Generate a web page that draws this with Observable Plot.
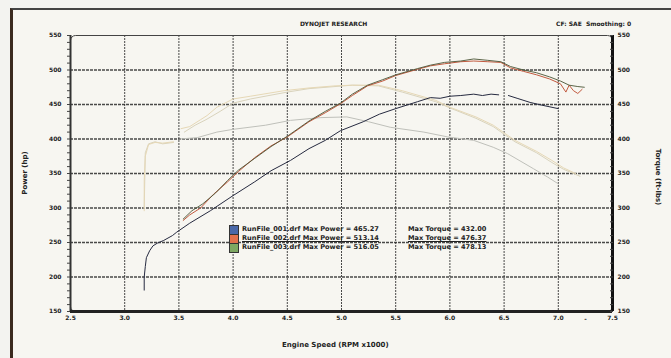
<!DOCTYPE html>
<html><head><meta charset="utf-8">
<script src="https://cdn.jsdelivr.net/npm/d3@7"></script>
<script src="https://cdn.jsdelivr.net/npm/@observablehq/plot@0.6"></script>
<style>
body{margin:0;background:#f3f3f0;}
#wrap{position:relative;width:671px;height:358px;overflow:hidden;}
#paper{position:absolute;left:10px;top:8px;right:-5px;bottom:-5px;background:#f7f6f1;border-left:3px solid #3b2a1f;border-top:2px solid #444;}
#chart{position:absolute;left:0;top:0;}
.t{position:absolute;font-family:"DejaVu Sans";font-weight:bold;color:#222;white-space:nowrap;line-height:1;}
.sw{position:absolute;width:8px;height:8px;border:1px solid #333;}
</style></head>
<body>
<div id="wrap">
  <div id="paper"></div>
  <div id="chart"></div>
  <div class="t" style="left:300px;top:21px;font-size:6px;">DYNOJET RESEARCH</div>
  <div class="t" style="left:556px;top:21px;font-size:6px;">CF: SAE&nbsp; Smoothing: 0</div>
  <div class="t" style="left:282px;top:342px;font-size:7px;">Engine Speed (RPM x1000)</div>
  <div class="t" style="left:25px;top:173px;font-size:7px;transform:translate(-50%,-50%) rotate(-90deg);">Power (hp)</div>
  <div class="t" style="left:657px;top:177px;font-size:7px;transform:translate(-50%,-50%) rotate(90deg);">Torque (ft-lbs)</div>
  <div id="legend"></div>
</div>
<script>
const xTicks = [2.5,3.0,3.5,4.0,4.5,5.0,5.5,6.0,6.5,7.0,7.5];
const yTicks = [150,200,250,300,350,400,450,500,550];
const yMinor = d3.range(150,551,10);

const runNames = ["RunFile_001.drf","RunFile_002.drf","RunFile_003.drf"];
const maxPower = ["465.27","513.14","516.05"];
const maxTorque = ["432.00","476.37","478.13"];
const swatch = ["#4a68a8","#e2714c","#7ea862"];

// Power run 001
const p1rpm = [3.18,3.18,3.19,3.20,3.23,3.26,3.30,3.36,3.44,3.48,3.60,3.79,4.00,4.20,4.35,4.53,4.70,4.85,4.99,5.20,5.35,5.50,5.70,5.82,5.91,6.00,6.10,6.22,6.30,6.38,6.45,6.50,6.54,6.62,6.74,6.85,7.00];
const p1hp  = [181,200,215,228,238,245,249,253,260,265,278,296,318,338,354,369,386,398,412,425,436,444,454,460,459,462,463,465,463,465,464,null,463,459,453,449,444];
// Power run 002
const p2rpm = [3.54,3.60,3.70,3.82,3.95,4.05,4.20,4.35,4.50,4.70,4.85,4.99,5.10,5.24,5.38,5.50,5.70,5.82,5.95,6.10,6.22,6.35,6.47,6.56,6.68,6.80,6.92,7.02,7.07,7.10,7.14,7.18,7.22];
const p2hp  = [282,290,300,320,338,353,373,390,403,425,438,451,463,477,484,492,501,506,509,512,513,512,511,503,498,493,487,480,468,478,470,466,472];
// Power run 003
const p3rpm = [3.54,3.62,3.72,3.84,3.95,4.05,4.20,4.35,4.50,4.70,4.85,4.99,5.10,5.24,5.38,5.50,5.70,5.82,5.95,6.10,6.22,6.35,6.47,6.56,6.68,6.80,6.92,7.02,7.10,7.18,7.24];
const p3hp  = [284,296,306,322,340,355,372,389,404,426,440,452,465,478,486,493,502,507,511,513,516,514,512,505,500,496,490,484,478,476,475];
// Torque run 002
const t2rpm = [3.18,3.18,3.19,3.22,3.28,3.35,3.45,3.48,3.52,3.60,3.70,3.76,3.85,4.00,4.16,4.47,4.70,4.94,5.10,5.34,5.56,5.87,6.00,6.24,6.40,6.60,6.80,6.94,7.05,7.16];
const t2tq  = [296,340,375,392,395,394,396,null,415,418,428,434,446,458,462,470,474,477,478,478,470,456,446,432,420,398,382,369,358,350];
// Torque run 003
const t3rpm = [3.18,3.19,3.22,3.28,3.35,3.45,3.50,3.55,3.65,3.75,3.88,4.00,4.16,4.50,4.70,4.94,5.10,5.34,5.56,5.87,6.00,6.24,6.40,6.60,6.80,6.94,7.05,7.20];
const t3tq  = [300,380,393,396,393,395,null,410,420,428,440,452,458,468,473,476,478,477,468,454,445,430,418,396,380,366,356,346];
// Torque run 001
const t1rpm = [3.51,3.67,3.85,4.00,4.10,4.30,4.53,4.81,5.05,5.25,5.45,5.76,5.98,6.22,6.40,6.53,6.77,6.90,7.00];
const t1tq  = [400,402,410,414,416,420,427,431,432,425,417,410,403,398,388,379,357,345,335];

const zip = (a,b) => a.map((x,i)=>({x, y:b[i]}));

const grid = {stroke:"#2a2a2a", strokeOpacity:0.85};
const chart = Plot.plot({
  width:671, height:358,
  marginLeft:70, marginRight:59, marginTop:35, marginBottom:47,
  style:{background:"transparent", fontFamily:"DejaVu Sans", fontSize:"6px", fontWeight:"bold", color:"#222", overflow:"visible"},
  x:{domain:[2.5,7.5]},
  y:{domain:[150,550]},
  marks:[
    Plot.gridX(xTicks.slice(1,-1), {...grid, strokeDasharray:"2,1", strokeWidth:1}),
    Plot.gridY(yTicks.slice(1,-1), {...grid, strokeDasharray:"3,1", strokeWidth:1.4}),
    Plot.line(zip(t1rpm,t1tq), {x:"x", y:"y", stroke:"#bfc0ba", strokeWidth:1}),
    Plot.line(zip(t3rpm,t3tq), {x:"x", y:"y", stroke:"#d9d3bc", strokeWidth:1}),
    Plot.line(zip(t2rpm,t2tq), {x:"x", y:"y", stroke:"#e6d8b6", strokeWidth:1}),
    Plot.line(zip(p1rpm,p1hp), {x:"x", y:"y", stroke:"#262a40", strokeWidth:1}),
    Plot.line(zip(p2rpm,p2hp), {x:"x", y:"y", stroke:"#c25a3f", strokeWidth:1}),
    Plot.line(zip(p3rpm,p3hp), {x:"x", y:"y", stroke:"#4a5434", strokeWidth:0.9}),
    Plot.frame({stroke:"#444", strokeWidth:1, rx:5}),
    Plot.ruleX([2.5], {stroke:"#333", strokeWidth:2}),
    Plot.ruleX([7.5], {stroke:"#111", strokeWidth:3}),
    Plot.ruleY([150], {stroke:"#222", strokeWidth:3}),
    Plot.axisY(yMinor, {anchor:"left", tickSize:3, text:null, label:null, stroke:"#444"}),
    Plot.axisY(yMinor, {anchor:"right", tickSize:-3, text:null, label:null, stroke:"#444"}),
    Plot.axisY(yTicks, {anchor:"left", tickSize:0, tickPadding:9, label:null}),
    Plot.axisY(yTicks, {anchor:"right", tickSize:0, tickPadding:5, label:null}),
    Plot.axisX(xTicks, {anchor:"bottom", tickSize:0, tickPadding:4, tickFormat:d=>d.toFixed(1), label:null}),
    Plot.text([7.25], {x:d=>d, frameAnchor:"bottom", dy:9, text:()=>"-", fontSize:6})
  ]
});
document.getElementById("chart").append(chart);

const lg = document.getElementById("legend");
runNames.forEach((n,i)=>{
  const top = 225 + i*9;
  const s = document.createElement("div");
  s.className="sw"; s.style.left="229px"; s.style.top=top+"px"; s.style.background=swatch[i];
  lg.append(s);
  const a = document.createElement("div");
  a.className="t"; a.style.left="242px"; a.style.top=(top+1)+"px"; a.style.fontSize="6.6px";
  a.textContent = `${n} Max Power = ${maxPower[i]}`;
  const b = document.createElement("div");
  b.className="t"; b.style.left="408px"; b.style.top=(top+1)+"px"; b.style.fontSize="6.6px";
  b.textContent = `Max Torque = ${maxTorque[i]}`;
  if(i===1){a.style.textDecoration="underline";b.style.textDecoration="underline";}
  lg.append(a); lg.append(b);
});
</script>
</body></html>
